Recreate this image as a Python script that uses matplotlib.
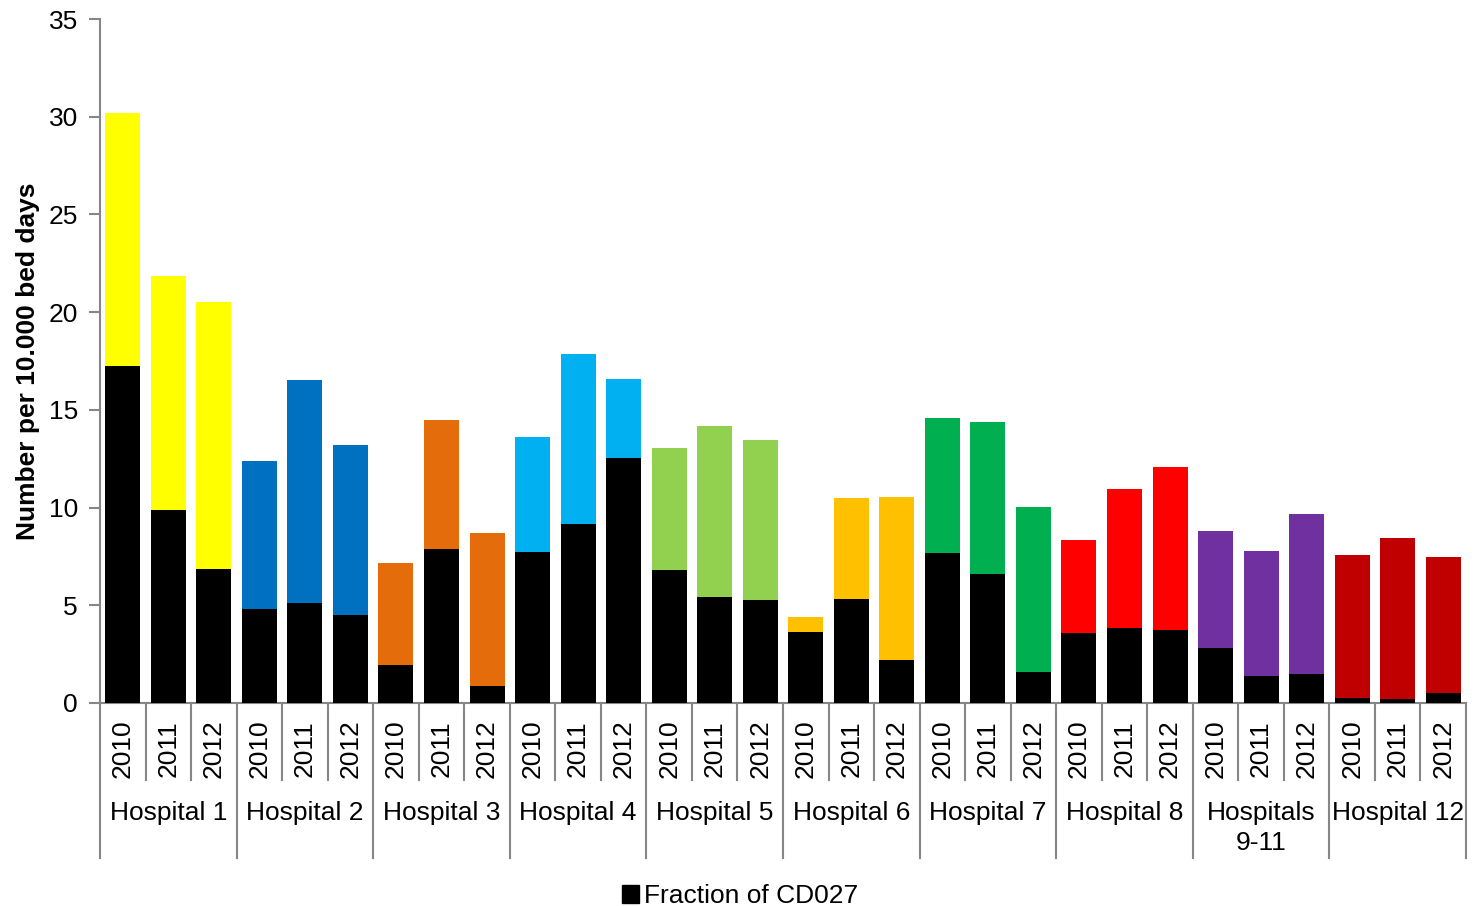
import matplotlib
matplotlib.use("Agg")
import matplotlib.pyplot as plt
from matplotlib.patches import Patch
from matplotlib.lines import Line2D
import matplotlib.transforms as mtransforms

plt.rcParams['font.family'] = ['Liberation Sans', 'DejaVu Sans']

hospitals = ["Hospital 1", "Hospital 2", "Hospital 3", "Hospital 4", "Hospital 5",
             "Hospital 6", "Hospital 7", "Hospital 8", "Hospitals\n9-11", "Hospital 12"]
years = ["2010", "2011", "2012"]
totals = [30.19, 21.85, 20.52,
          12.38, 16.53, 13.20,
          7.16, 14.48, 8.70,
          13.61, 17.86, 16.58,
          13.05, 14.17, 13.46,
          4.40, 10.49, 10.54,
          14.58, 14.38, 10.03,
          8.34, 10.95, 12.08,
          8.80, 7.78, 9.67,
          7.57, 8.44, 7.47]
cd027 = [17.24, 9.88, 6.86,
         4.81, 5.12, 4.50,
         1.94, 7.88, 0.87,
         7.73, 9.16, 12.54,
         6.81, 5.42, 5.27,
         3.63, 5.32, 2.20,
         7.68, 6.60, 1.59,
         3.58, 3.84, 3.74,
         2.81, 1.38, 1.48,
         0.26, 0.20, 0.51]
colors = ["#FFFF00", "#0070C0", "#E46C0A", "#00B0F0", "#92D050",
          "#FFC000", "#00B050", "#FF0000", "#7030A0", "#C00000"]

fig = plt.figure(figsize=(14.79, 9.06), dpi=100)
ax = fig.add_axes([100/1479, (906-703)/906, (1466-100)/1479, (703-19)/906])

n = len(totals)
xs = list(range(n))
bar_colors = [colors[i // 3] for i in range(n)]
ax.bar(xs, totals, width=0.77, color=bar_colors, zorder=2)
ax.bar(xs, cd027, width=0.77, color="black", zorder=3)

ax.set_xlim(-0.5, n - 0.5)
ax.set_ylim(0, 35)
ax.set_yticks(range(0, 36, 5))
ax.tick_params(axis='y', labelsize=19, length=8, color="#868686", width=1.5, pad=8)
ax.set_ylabel("Number per 10.000 bed days", fontsize=19, fontweight='bold', labelpad=6)

for s in ["top", "right"]:
    ax.spines[s].set_visible(False)
for s in ["left", "bottom"]:
    ax.spines[s].set_color("#868686")
    ax.spines[s].set_linewidth(1.5)
ax.set_xticks([])

trans = mtransforms.blended_transform_factory(ax.transData, fig.transFigure)
y0 = (906-703)/906
y_year = (906-780)/906
y_grp = (906-858)/906
gray = "#868686"

# separator lines
for k in range(n + 1):
    x = k - 0.5
    if k % 3 == 0:
        fig.add_artist(Line2D([x, x], [y0, y_grp], transform=trans, color=gray, lw=1.5))
    else:
        fig.add_artist(Line2D([x, x], [y0, y_year], transform=trans, color=gray, lw=1.5))

# year labels
for i in range(n):
    fig.text(i, (906-749)/906, years[i % 3], transform=trans, rotation=90,
             ha='center', va='center', fontsize=19)

# hospital labels
for g, name in enumerate(hospitals):
    fig.text(3 * g + 1, (906-801)/906, name, transform=trans, ha='center', va='top',
             fontsize=19, linespacing=1.3)

fig.legend(handles=[Patch(facecolor="black", edgecolor="black")], labels=["Fraction of CD027"],
           loc='center', bbox_to_anchor=(740/1479, (906-896)/906), frameon=False,
           fontsize=19, handlelength=0.65, handleheight=0.65, handletextpad=0.2)

fig.savefig("out.png", dpi=100)
